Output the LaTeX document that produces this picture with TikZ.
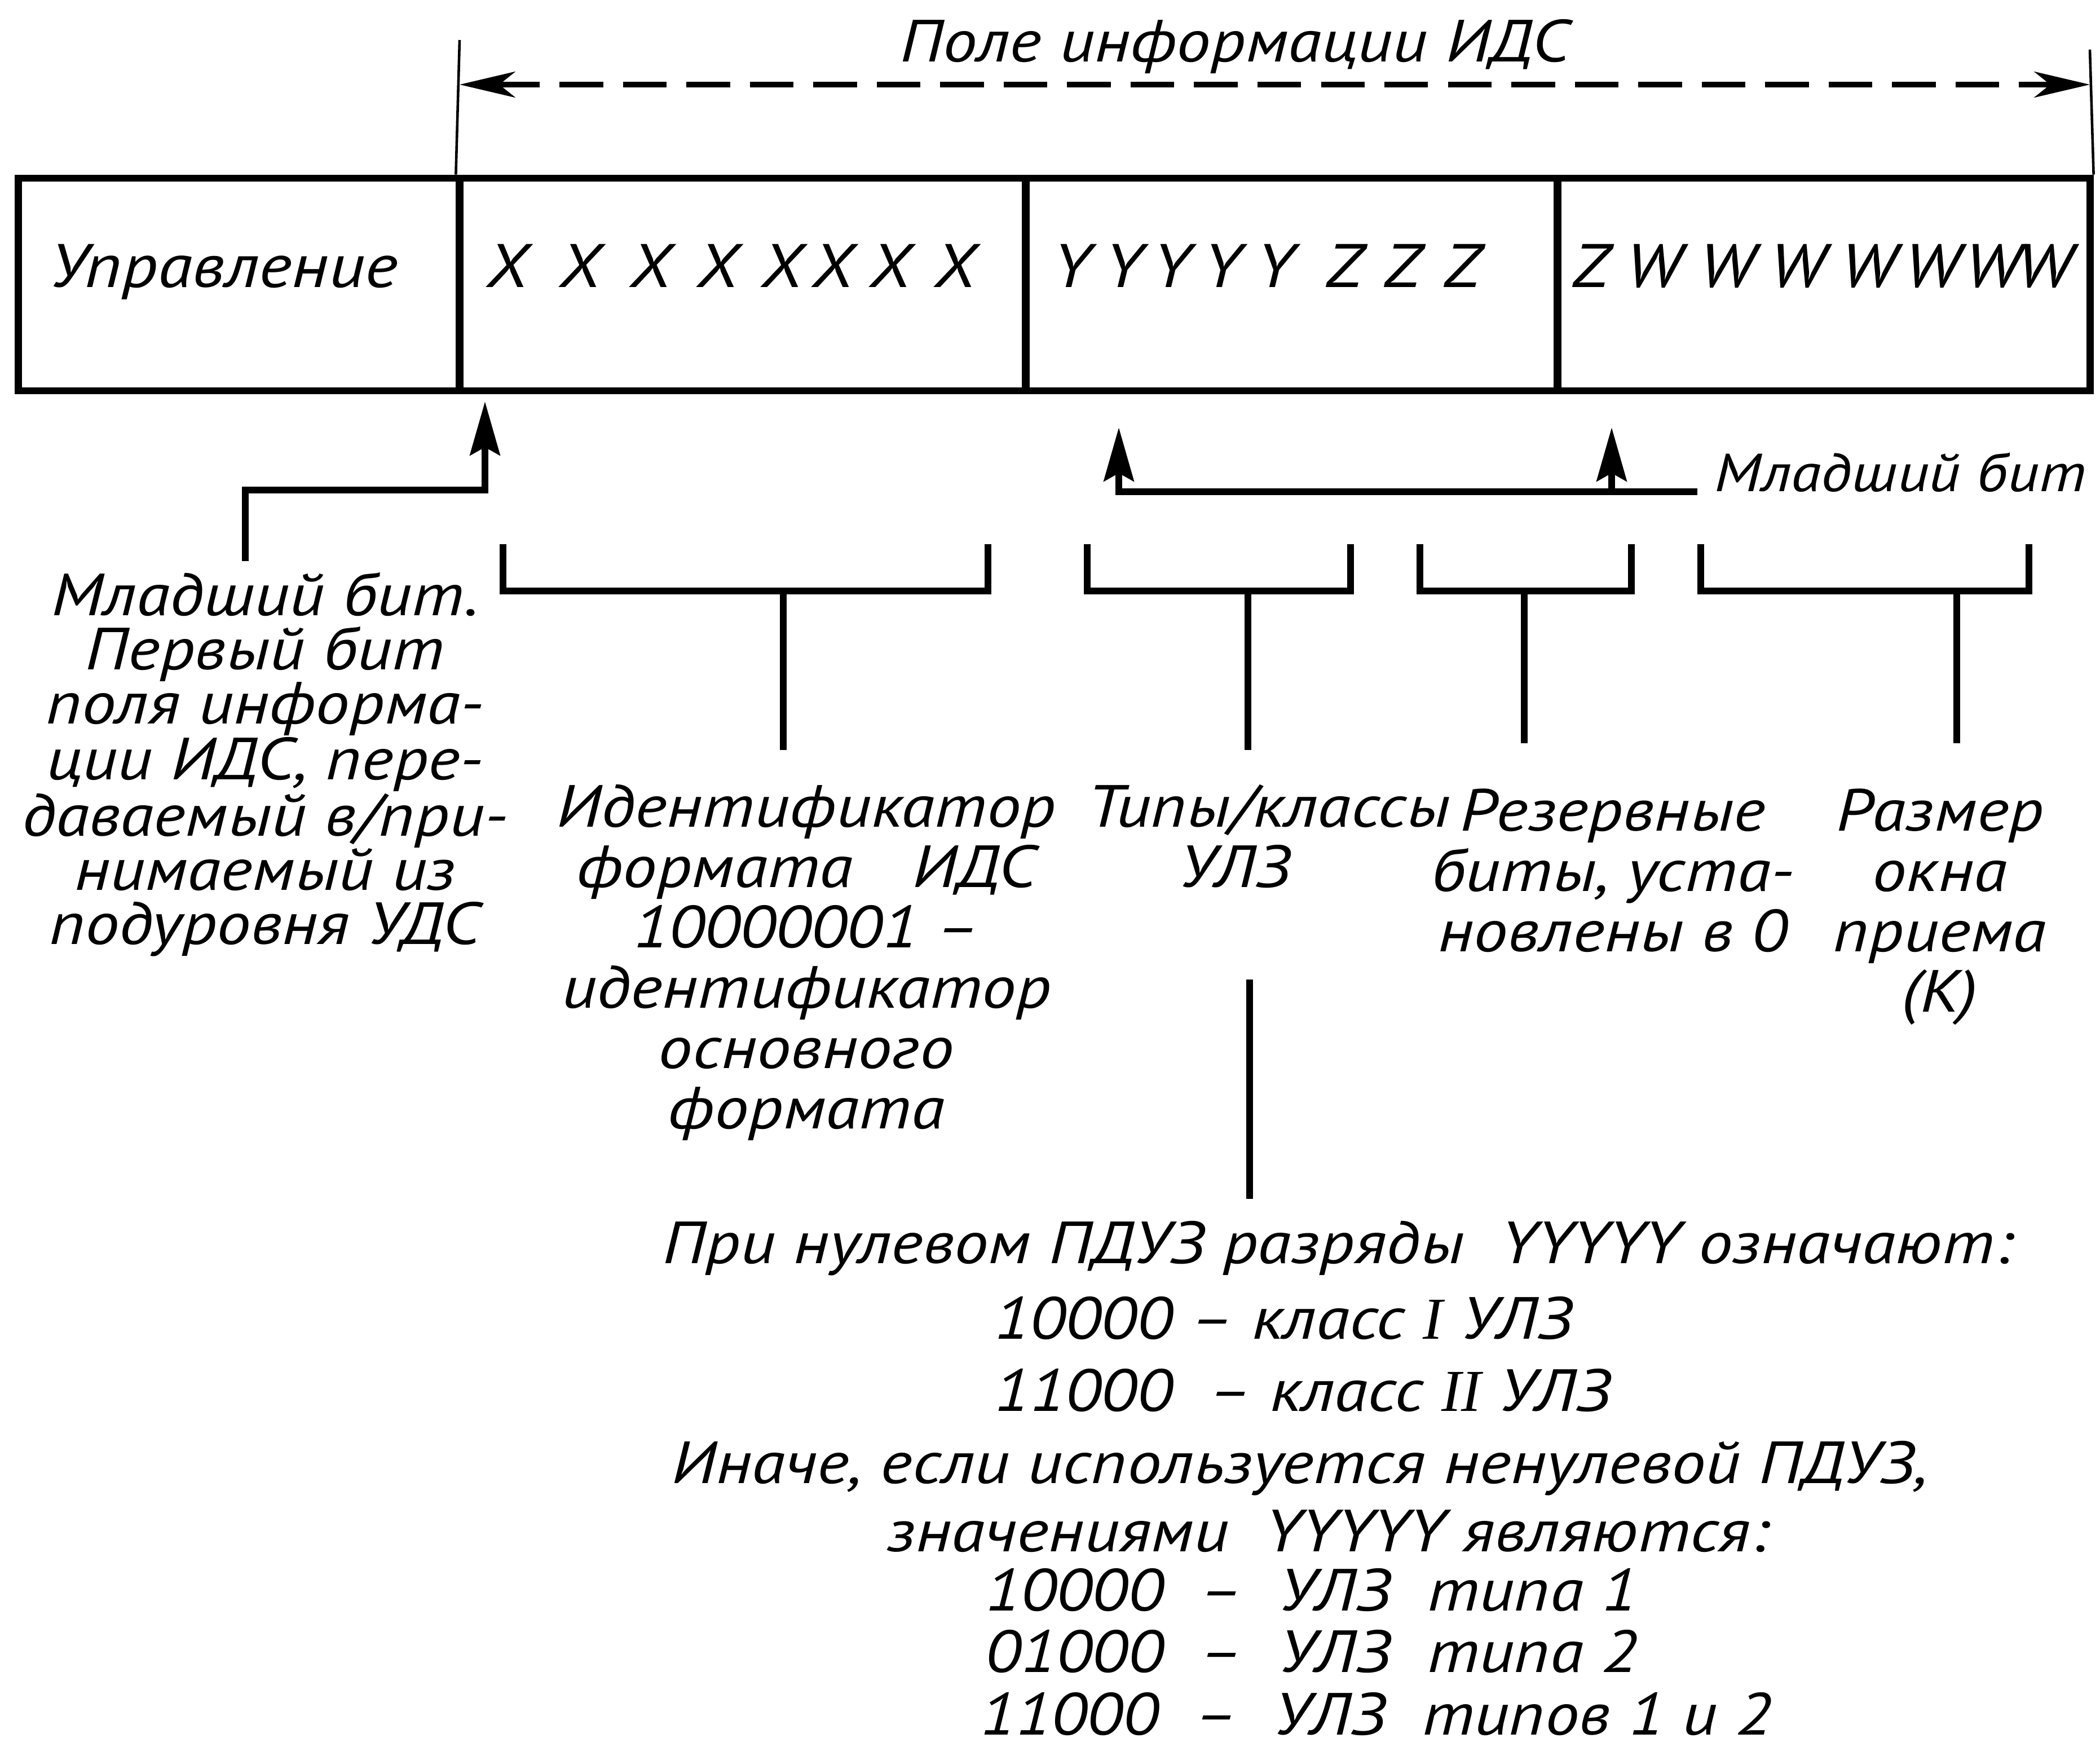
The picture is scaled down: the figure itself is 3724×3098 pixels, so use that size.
\documentclass[tikz,border=0pt]{standalone}
\usepackage{fontspec}
\setmainfont{PT Sans}[FakeStretch=1.15]
\newfontfamily\romfont{Liberation Serif}
\usetikzlibrary{arrows.meta}
\tikzset{
  cell/.style={draw, line width=3.6pt, minimum height=3.77cm, inner sep=0pt},
  conn/.style={line width=3.6pt},
  tick/.style={line width=1.3pt},
  lbl/.style={font=\itshape\fontsize{30}{30.4}\selectfont, inner sep=0pt},
  bit/.style={font=\itshape\fontsize{31}{31}\selectfont, inner sep=0pt, anchor=base},
  upto/.style={-{Stealth[length=27pt,width=15pt,inset=4pt]}},
  span/.style={line width=3pt, dash pattern=on 22pt off 10pt,
    {Stealth[length=28pt,width=13pt,inset=8pt]}-{Stealth[length=28pt,width=13pt,inset=8pt]}},
}
\newcommand{\fieldbrace}[5]{%
  \coordinate (#1tl) at (#2,965);
  \coordinate (#1tr) at (#3,965);
  \coordinate (#1bl) at (#2,1048);
  \coordinate (#1br) at (#3,1048);
  \coordinate (#1stem) at (#4,#5);
  \draw[conn] (#1tl) -- (#1bl) -- (#1br) -- (#1tr);
  \draw[conn] (#1stem |- #1bl) -- (#1stem);}

\begin{document}
\begin{tikzpicture}[x=0.01cm,y=-0.01cm]
\useasboundingbox (0,0) rectangle (3724,3098);

% frame
\node[cell, minimum width=7.82cm] (ctrl) at (424,504.5) {};
\node[cell, minimum width=10.04cm] (xfld) at (1317,504.5) {};
\node[cell, minimum width=9.43cm] (yfld) at (2290.5,504.5) {};
\node[cell, minimum width=9.44cm] (wfld) at (3234,504.5) {};

\node[bit] (ctrltext) at (397,510) {Управление};
\foreach \p [count=\i] in {899,1028,1153,1272,1386,1476,1578,1693}
  \node[bit] (xb\i) at (\p,510) {X};
\foreach \p [count=\i] in {1901,1993,2078,2168,2262}
  \node[bit] (yb\i) at (\p,510) {Y};
\foreach \p [count=\i] in {2384,2487,2593,2821}
  \node[bit] (zb\i) at (\p,510) {Z};
\foreach \p [count=\i] in {2933,3063,3188,3314,3427,3534,3626}
  \node[bit] (wb\i) at (\p,510) {W};

% information field
\coordinate (tickL) at (815,71);
\coordinate (tickR) at (3706,88);
\draw[tick] (tickL) -- (xfld.north west);
\draw[tick] (tickR) -- (wfld.north east);
\coordinate (infoL) at (815,150);
\coordinate (infoR) at (3706,150);
\draw[span] (infoL) -- (infoR);
\node[lbl, anchor=base] (info) at (2190,110) {Поле информации ИДС};

% least significant bits
\coordinate (lsbfoot) at (435,995);
\coordinate (lsbtip) at (860,712);
\draw[conn,upto] (lsbfoot) |- (lsbtip |- 0,869) -- (lsbtip);

\node[lbl, font=\itshape\fontsize{27}{27}\selectfont, anchor=base west, inner xsep=0.3cm]
  (lsbR) at (3010,872) {Младший бит};
\coordinate (ytip) at (1984,758);
\coordinate (ztip) at (2858,758);
\draw[conn,upto] (lsbR.base west) -| (ytip);
\draw[conn,upto] (ztip |- lsbR.base west) -- (ztip);

% brackets
\fieldbrace{fmt}{892}{1752}{1389}{1330}
\fieldbrace{cls}{1928}{2395}{2213}{1330}
\fieldbrace{res}{2518}{2893}{2703}{1318}
\fieldbrace{win}{3016}{3598}{3470}{1318}

\coordinate (clstop) at (2216,1737);
\coordinate (clsbot) at (2216,2126);
\draw[conn] (clstop) -- (clsbot);

% labels
\node[lbl, font=\itshape\fontsize{30}{27.3}\selectfont, align=center, anchor=north]
  (lsbL) at (470,1014) {Младший бит.\\ Первый бит\\ поля информа-\\ ции ИДС, пере-\\
  даваемый в/при-\\ нимаемый из\\ подуровня УДС};
\node[lbl, align=center, anchor=north] (fmt) at (1430,1391)
  {Идентификатор\\ формата\quad ИДС\\ 10000001 –\\ идентификатор\\ основного\\ формата};
\node[lbl, align=center, anchor=north] (cls) at (2250,1391) {Типы/классы\\ УЛЗ\hspace*{1.2cm}};
\node[lbl, align=center, anchor=north] (res) at (2860,1398) {Резервные\\ биты, уста-\\ новлены в 0};
\node[lbl, align=center, anchor=north] (win) at (3440,1398) {Размер\\ окна\\ приема\\ (К)};

% class values
\node[lbl, anchor=base west] (rule1) at (1175,2240) {При нулевом ПДУЗ разряды\ \ YYYYY означают:};
\node[lbl, anchor=base west] (rule2) at (1763,2374) {10000 – класс {\romfont\itshape I} УЛЗ};
\node[lbl, anchor=base west] (rule3) at (1763,2502) {11000\ \ – класс {\romfont\itshape II} УЛЗ};
\node[lbl, anchor=base west] (rule4) at (1191,2630) {Иначе, если используется ненулевой ПДУЗ,};
\node[lbl, anchor=base west] (rule5) at (1573,2751) {значениями\ \ YYYYY являются:};
\node[lbl, anchor=base west] (rule6) at (1747,2856) {10000\ \ –\ \ УЛЗ\ \ типа 1};
\node[lbl, anchor=base west] (rule7) at (1747,2965) {01000\ \ –\ \ УЛЗ\ \ типа 2};
\node[lbl, anchor=base west] (rule8) at (1738,3076) {11000\ \ –\ \ УЛЗ\ \ типов 1 и 2};
\end{tikzpicture}
\end{document}
